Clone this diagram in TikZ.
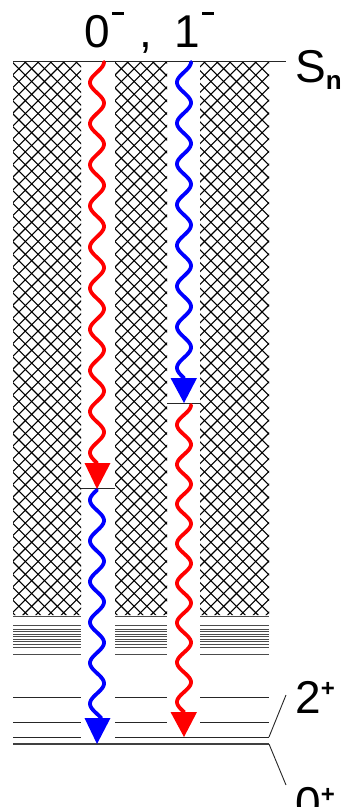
\documentclass[tikz,border=0pt]{standalone}
\usepackage{fontspec}
\setmainfont{Liberation Sans}
\newcommand{\supminus}{\hspace{2pt}\raisebox{32pt}{\rule{12pt}{3pt}}}
\newcommand{\supplus}[1]{\raisebox{#1}{\fontsize{24}{24}\selectfont\bfseries +}}
\begin{document}
\begin{tikzpicture}[x=1pt,y=-1pt,
  level/.style={line width=1pt,black!85},
  hatchline/.style={line width=1.1pt,black},
  wave/.style={line width=3.8pt,line join=round,line cap=round},
  lbl/.style={inner sep=0pt,font=\fontsize{46}{46}\selectfont}]
\useasboundingbox (0,0) rectangle (341,807);
% hatched columns
\begin{scope}
  \clip (13,62) rectangle (81,615) (115,62) rectangle (167,615) (200,62) rectangle (269,615);
  \foreach \k in {-620,-607.2,...,300} \draw[hatchline] (\k,57) -- ++(565,565);
  \foreach \k in {5,17.8,...,900} \draw[hatchline] (\k,57) -- ++(-565,565);
\end{scope}
% top line
\coordinate (tl) at (13,61); \coordinate (tr) at (286,61);
\draw[level] (tl) -- (tr);
% dense lines under hatching
\foreach \yy in {616.5,625,629,631.5,634,636.5,639,641.5,644,647,654}{
  \draw[level,black!70] (13,\yy) -- (81,\yy);
  \draw[level,black!70] (115,\yy) -- (167,\yy);
  \draw[level,black!70] (200,\yy) -- (269,\yy);
}
% low levels
\foreach \yy in {697,722}{
  \draw[level] (13,\yy) -- (81,\yy);
  \draw[level] (115,\yy) -- (167,\yy);
  \draw[level] (200,\yy) -- (269,\yy);
}
\draw[level] (13,737) -- (81,737);
\coordinate (l2a) at (115,737); \coordinate (l2b) at (269,737);
\draw[level] (l2a) -- (l2b);
\coordinate (g0a) at (13,744); \coordinate (g0b) at (269,744);
\draw[level,black!75,line width=1.3pt] (g0a) -- (g0b);
% intermediate levels
\draw[level] (81,488) -- (115,488);
\draw[level] (167,403) -- (200,403);
% label lines
\coordinate (t2) at (286,695); \coordinate (t0) at (286,785);
\draw[level,line width=0.9pt] (l2b) -- (t2);
\draw[level,line width=0.9pt] (g0b) -- (t0);
% waves
\draw[wave,red] plot[domain=62:463,samples=300,variable=\t] ({97+7*cos(8.753*(\t-62))},\t);
\fill[red] (84.5,463) -- (110.5,463) -- (97,489) -- cycle;
\draw[wave,blue] plot[domain=490:718,samples=200,variable=\t] ({97-7*sin(8.845*(\t-490))},\t);
\fill[blue] (84.5,718) -- (110.5,718) -- (97,744) -- cycle;
\draw[wave,blue] plot[domain=62:378,samples=250,variable=\t] ({184+7*cos(8.830*(\t-62))},\t);
\fill[blue] (170.5,378) -- (197,378) -- (184,403) -- cycle;
\draw[wave,red] plot[domain=405:712,samples=250,variable=\t] ({184+7*cos(9.091*(\t-405))},\t);
\fill[red] (170.5,712) -- (197,712) -- (184,737) -- cycle;
% labels
\node[lbl,anchor=base west] (top) at (84,47) {0\supminus\hspace{16pt},\hspace{22pt}1\supminus};
\node[lbl,anchor=base west] (sn) at (295,82) {S\raisebox{-7pt}{\fontsize{26}{26}\selectfont\bfseries n}};
\node[lbl,anchor=base west] (j2) at (295,713) {2\supplus{17pt}};
\node[lbl,anchor=base west] (j0) at (295,819) {0\supplus{17pt}};
\end{tikzpicture}
\end{document}
